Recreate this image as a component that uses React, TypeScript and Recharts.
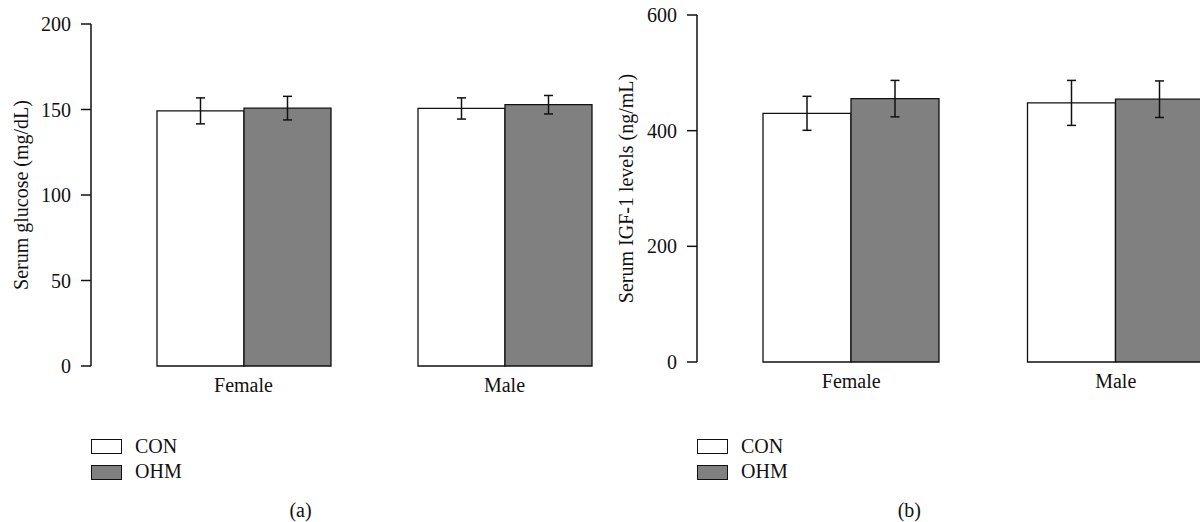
import { BarChart, Bar, XAxis, YAxis, ErrorBar, Legend } from "recharts";

const categories = ["Female", "Male"];
const glucoseCon = [149.2, 150.6];
const glucoseConErr = [7.6, 6.2];
const glucoseOhm = [150.8, 152.8];
const glucoseOhmErr = [6.9, 5.4];
const igfCon = [430, 448];
const igfConErr = [29.4, 38.9];
const igfOhm = [455.4, 454.4];
const igfOhmErr = [31.5, 31.6];
const glucoseTicks = [0, 50, 100, 150, 200];
const igfTicks = [0, 200, 400, 600];

const FONT = '"Liberation Serif", "Times New Roman", serif';
const INK = "#111";
const GREY = "#808080";

const glucoseData = categories.map((name, i) => ({
  name,
  con: glucoseCon[i],
  conErr: glucoseConErr[i],
  ohm: glucoseOhm[i],
  ohmErr: glucoseOhmErr[i],
}));

const igfData = categories.map((name, i) => ({
  name,
  con: igfCon[i],
  conErr: igfConErr[i],
  ohm: igfOhm[i],
  ohmErr: igfOhmErr[i],
}));

function LegendBox(props: any) {
  const items = props.payload || [];
  return (
    <div style={{ fontFamily: FONT, fontSize: 20, color: INK }}>
      {items.map((it: any) => (
        <div key={it.value} style={{ display: "flex", alignItems: "center", height: 25.7, lineHeight: "25.7px" }}>
          <span
            style={{
              display: "inline-block",
              boxSizing: "border-box",
              width: 31,
              height: 15,
              border: `1.5px solid ${INK}`,
              background: it.color,
              marginRight: 13,
            }}
          />
          <span>{it.value}</span>
        </div>
      ))}
    </div>
  );
}

type PanelProps = {
  data: any[];
  left: number;
  width: number;
  axisWidth: number;
  top: number;
  bottom: number;
  max: number;
  ticks: number[];
  title: string;
  titleOffset: number;
};

function Panel({ data, left, width, axisWidth, top, bottom, max, ticks, title, titleOffset }: PanelProps) {
  const axisStroke = { stroke: INK, strokeWidth: 1.5 };
  const tickStyle = { fill: INK, fontSize: 20, fontFamily: FONT };
  return (
    <div style={{ position: "absolute", left, top: 0 }}>
      <BarChart
        width={width}
        height={522}
        data={data}
        margin={{ top, right: 0, bottom, left: 0 }}
        barCategoryGap={44}
        barGap={0}
        style={{ fontFamily: FONT }}
      >
        <XAxis
          dataKey="name"
          axisLine={false}
          tickLine={false}
          tickMargin={6}
          height={40}
          padding={{ left: 22, right: 22 }}
          tick={tickStyle}
        />
        <YAxis
          domain={[0, max]}
          ticks={ticks}
          width={axisWidth}
          axisLine={axisStroke}
          tickLine={axisStroke}
          tickSize={10}
          tickMargin={10}
          tick={tickStyle}
          label={{
            value: title,
            angle: -90,
            position: "insideLeft",
            offset: titleOffset,
            style: { textAnchor: "middle", fill: INK, fontSize: 20, fontFamily: FONT },
          }}
        />
        <Legend
          layout="horizontal"
          align="center"
          verticalAlign="middle"
          content={<LegendBox />}
          wrapperStyle={{ left: axisWidth, top: 433.7, width: 200, height: 52 }}
        />
        <Bar dataKey="con" name="CON" fill="#ffffff" stroke={INK} strokeWidth={1.3} isAnimationActive={false}>
          <ErrorBar dataKey="conErr" width={4.5} stroke={INK} strokeWidth={1.5} direction="y" />
        </Bar>
        <Bar dataKey="ohm" name="OHM" fill={GREY} stroke={INK} strokeWidth={1.3} isAnimationActive={false}>
          <ErrorBar dataKey="ohmErr" width={4.5} stroke={INK} strokeWidth={1.5} direction="y" />
        </Bar>
      </BarChart>
    </div>
  );
}

const captionStyle = {
  position: "absolute" as const,
  top: 500,
  width: 100,
  textAlign: "center" as const,
  fontFamily: FONT,
  fontSize: 20,
  lineHeight: "20px",
  color: INK,
};

export default function App() {
  return (
    <div
      style={{
        position: "absolute",
        left: 0,
        top: 0,
        width: 1200,
        height: 522,
        overflow: "hidden",
        background: "#fff",
        fontFamily: FONT,
      }}
    >
      <Panel
        data={glucoseData}
        left={0}
        width={657}
        axisWidth={91}
        top={24}
        bottom={116}
        max={200}
        ticks={glucoseTicks}
        title="Serum glucose (mg/dL)"
        titleOffset={21}
      />
      <Panel
        data={igfData}
        left={560}
        width={710}
        axisWidth={137}
        top={15}
        bottom={120}
        max={600}
        ticks={igfTicks}
        title="Serum IGF-1 levels (ng/mL)"
        titleOffset={66}
      />
      <div style={{ ...captionStyle, left: 250.5 }}>(a)</div>
      <div style={{ ...captionStyle, left: 859.3 }}>(b)</div>
    </div>
  );
}
